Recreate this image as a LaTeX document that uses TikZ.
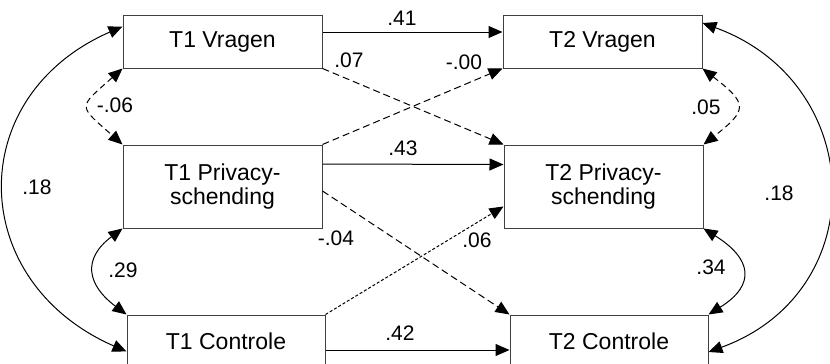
\documentclass[tikz,border=0pt]{standalone}
\usepackage{fontspec}
\setmainfont{Liberation Sans}
\usetikzlibrary{positioning,arrows.meta}

\begin{document}
\begin{tikzpicture}[x=1pt,y=-1pt]
        \tikzset{
            box/.style={draw=black!75,line width=1pt,rectangle,minimum width=199pt,minimum height=53pt,inner sep=0pt,align=center,font=\fontsize{23}{24}\selectfont},
            tallbox/.style={box,minimum height=83pt},
            coef/.style={inner sep=0pt,font=\fontsize{21}{21}\selectfont},
            link/.style={line width=1pt,-{Triangle[length=14pt,width=12pt]}},
            dashlink/.style={link,dash pattern=on 7pt off 4pt},
            dotlink/.style={link,dash pattern=on 3pt off 2pt},
            cov/.style={line width=1pt,{Triangle[length=14pt,width=12pt]}-{Triangle[length=14pt,width=12pt]}},
            dashcov/.style={cov,dash pattern=on 6pt off 4pt}
        }
        \useasboundingbox (0,0) rectangle (830,364);

        \node[box] (vragen1) at (222.5,41.5) {T1 Vragen};
        \node[box] (vragen2) [right=180pt of vragen1] {T2 Vragen};
        \node[tallbox] (privacy1) [below=76pt of vragen1] {T1 Privacy-\\schending};
        \node[tallbox] (privacy2) [right=181pt of privacy1] {T2 Privacy-\\schending};
        \node[box,minimum width=198pt] (controle1) [below=86pt of privacy1,xshift=3.5pt] {T1 Controle};
        \node[box,minimum width=198pt] (controle2) [right=184pt of controle1] {T2 Controle};

        % stabiliteit
        \draw[link] ([yshift=9.5pt]vragen1.east) -- ([yshift=9.5pt]vragen2.west);
        \draw[link] ([yshift=22.5pt]privacy1.east) -- ([yshift=22pt]privacy2.west);
        \draw[link] ([yshift=-8.5pt]controle1.east) -- ([yshift=-8.5pt]controle2.west);

        % kruispaden
        \draw[dashlink] (vragen1.south east) -- (privacy2.north west);
        \draw[dashlink] (privacy1.north east) -- (vragen2.south west);
        \draw[dashlink] ([yshift=-4.5pt]privacy1.east) -- (controle2.north west);
        \draw[dotlink] (controle1.north east) -- ([yshift=-20pt]privacy2.west);

        % correlaties
        \draw[dashcov] (vragen1.south west) .. controls +(-45,40) and +(-45,-40) .. (privacy1.north west);
        \draw[cov] (privacy1.south west) .. controls +(-40,30) and +(-40,-30) .. (controle1.north west);
        \draw[cov] ([yshift=15pt]vragen1.west) .. controls +(-160,70) and +(-160,-70) .. ([yshift=-10pt]controle1.west);
        \draw[dashcov] (vragen2.south east) .. controls +(45,35) and +(45,-35) .. (privacy2.north east);
        \draw[cov] (privacy2.south east) .. controls +(48,30) and +(48,-30) .. (controle2.north east);
        \draw[cov] ([yshift=18.5pt]vragen2.east) .. controls +(165,60) and +(165,-60) .. ([yshift=-10.5pt]controle2.east);

        \node[coef] (c41) at (402,18) {.41};
        \node[coef] (c07) at (349,60) {.07};
        \node[coef] (c00) at (464,62) {-.00};
        \node[coef] (c43) at (403,148) {.43};
        \node[coef] (c04) at (336,238) {-.04};
        \node[coef] (c06) at (477,240) {.06};
        \node[coef] (c42) at (400,333) {.42};
        \node[coef] (cv06) at (115,105) {-.06};
        \node[coef] (cv18a) at (37,187) {.18};
        \node[coef] (cv29) at (123,270) {.29};
        \node[coef] (cv05) at (706,107) {.05};
        \node[coef] (cv18b) at (779,193) {.18};
        \node[coef] (cv34) at (711,267) {.34};
    \end{tikzpicture}
\end{document}
